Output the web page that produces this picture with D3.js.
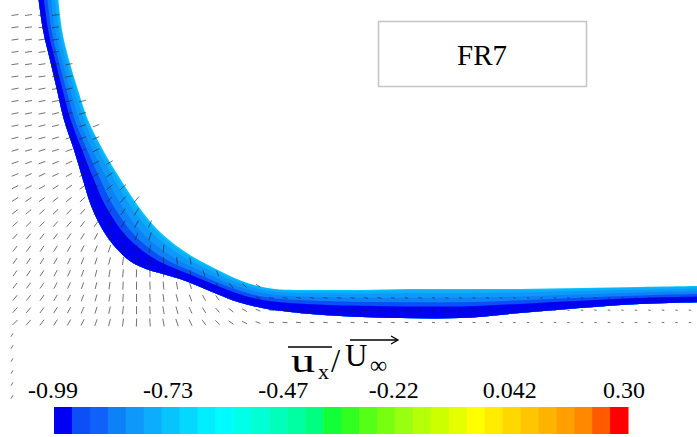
<!DOCTYPE html>
<html>
<head>
<meta charset="utf-8">
<script src="https://cdn.jsdelivr.net/npm/d3@7"></script>
<style>
body { margin: 0; background: #fff; }
</style>
</head>
<body>
<div id="chart"></div>
<script>
// free surface contour band, outer (low side) and inner edge, x/D and z/D
var surfOuterX = [0.38, 0.43, 0.50, 0.57, 0.64, 0.74, 0.83, 0.89, 0.95, 1.04, 1.16, 1.30, 1.46, 1.63, 1.80, 1.98, 2.17, 2.38, 2.62, 2.90, 3.40, 4.00, 4.60, 5.20, 5.80, 6.40, 7.05]
var surfOuterY = [3.45, 3.10, 2.80, 2.50, 2.20, 1.90, 1.60, 1.40, 1.25, 1.08, 0.92, 0.79, 0.71, 0.66, 0.61, 0.54, 0.46, 0.38, 0.32, 0.28, 0.24, 0.22, 0.22, 0.27, 0.32, 0.36, 0.38]
var surfInnerX = [0.58, 0.62, 0.69, 0.78, 0.88, 1.03, 1.21, 1.34, 1.45, 1.56, 1.68, 1.81, 1.95, 2.10, 2.26, 2.42, 2.58, 2.75, 2.95, 3.20, 3.60, 4.10, 4.65, 5.20, 5.80, 6.40, 7.05]
var surfInnerY = [3.45, 3.10, 2.80, 2.50, 2.20, 1.90, 1.60, 1.40, 1.25, 1.12, 1.01, 0.91, 0.82, 0.74, 0.66, 0.59, 0.54, 0.51, 0.50, 0.50, 0.50, 0.51, 0.51, 0.51, 0.52, 0.53, 0.54]
// share of the band taken by the lowest level (-0.99) at each station
var darkFrac = [0.27, 0.27, 0.27, 0.27, 0.28, 0.28, 0.29, 0.30, 0.32, 0.34, 0.37, 0.40, 0.40, 0.38, 0.36, 0.35, 0.35, 0.35, 0.36, 0.38, 0.40, 0.40, 0.40, 0.38, 0.36, 0.35, 0.35]

// upper contour levels, as share of the rest of the band, and their colour index
var bandLevels = [1, 0.93, 0.76, 0.5, 0.24]
var bandColorIdx = [6, 5, 4, 3, 1]

// colour map of the legend, 32 levels
var cmapColors = ["#0000f2", "#0d4ff7", "#1060fa", "#0d82f8", "#0d98fa", "#0caefc", "#08c4fd", "#05d8ff",
  "#00eeff", "#00fcff", "#00ffe8", "#00ffd2", "#00ffbb", "#00ffa0", "#00ff80", "#10ff38",
  "#30ff20", "#55ff18", "#78ff10", "#98ff10", "#b5ff08", "#ccff00", "#e4ff00", "#ffff00",
  "#ffec00", "#ffd800", "#ffc600", "#ffb400", "#ffa000", "#ff8800", "#ff5a00", "#ff0000"]
var cbarTicks = [-0.99, -0.73, -0.47, -0.22, 0.042, 0.30]
var cbarLabels = ["-0.99", "-0.73", "-0.47", "-0.22", "0.042", "0.30"]

// velocity vectors: direction (deg) per grid row, left part of the domain
var vecAngle = [
  [8, 8, 8, 8],
  [8, 8, 8, 8],
  [8, 8, 8, 8],
  [8, 8, 8, 8],
  [8, 8, 8, 8, 10],
  [8, 8, 8, 8, 10],
  [10, 10, 10, 10, 12],
  [10, 10, 12, 12, 12, 14],
  [12, 12, 12, 14, 14, 15],
  [12, 12, 14, 14, 15, 18, 20],
  [14, 15, 15, 16, 18, 20, 22],
  [15, 16, 18, 18, 20, 24, 26],
  [18, 20, 20, 22, 24, 26, 28, 30],
  [22, 24, 25, 26, 28, 30, 32, 35],
  [28, 28, 30, 32, 34, 36, 38, 40, 42],
  [32, 34, 36, 38, 40, 42, 44, 46, 48, 50],
  [38, 40, 42, 44, 46, 48, 50, 52, 55, 58],
  [42, 44, 46, 48, 50, 52, 55, 58, 60, 62, 65],
  [48, 50, 52, 54, 56, 58, 62, 65, 68, 70, 72],
  [52, 54, 56, 58, 60, 64, 68, 72, 76, 80, 82, 85],
  [55, 56, 58, 60, 64, 68, 72, 76, 82, 86, 88, 90, 95, 100],
  [55, 56, 58, 62, 66, 70, 75, 80, 85, 88, 90, 92, 96, 102, 108, 115],
  [52, 54, 56, 62, 66, 70, 76, 82, 87, 90, 92, 95, 100, 106, 112, 120, 128, 138, 148],
  [50, 52, 55, 60, 64, 68, 74, 80, 86, 90, 93, 98, 104, 110, 118, 126, 135, 145, 155],
  [48, 50, 54, 58, 62, 66, 72, 78, 84, 90, 94, 100, 106, 114, 122, 132, 142, 150, 158],
  [45, 48, 52, 56, 60, 64, 70, 76, 82, 88, 94, 100, 108, 116, 125, 135, 145, 152, 160]
]
var vecLen = [7, 7, 7, 7, 7, 7, 7, 7.5, 8, 8, 8, 8, 7.5, 7, 6.5, 6, 6, 5.5, 5]
// under the flat part: last three rows
var rightAngle = [170, 172, 175]
var rightLen = [5, 5, 5, 4.5, 4.5, 4.5, 4, 4, 4, 3.5, 3.5, 3.5, 3, 3, 3, 3, 3, 2.5, 2.5, 2.5,
  2.5, 2.5, 2.5, 2.5, 2.5, 2.5, 2.5, 2.5, 2.5, 2.5, 2.5, 2.5]
var wallMarksY = [0.05, -0.07, -0.20, -0.32, -0.44, -0.57]

var width = 697,
  height = 437
var serif = '"Liberation Serif", "Times New Roman", Times, serif'

var svg = d3.select("#chart")
  .append("svg")
  .attr("width", width)
  .attr("height", height)

var x = d3.scaleLinear().domain([0, 6.97]).range([0, 697])
var y = d3.scaleLinear().domain([0, 3.4]).range([340, 0])

// contour band
var outer = surfOuterX.map(function(v, i) { return [v, surfOuterY[i]] })
var inner = surfInnerX.map(function(v, i) { return [v, surfInnerY[i]] })
var edge = d3.line().x(function(d) { return x(d[0]) }).y(function(d) { return y(d[1]) }).curve(d3.curveCatmullRom)

function layer(fracAt, color) {
  var pts = outer.map(function(o, i) {
    var f = fracAt(i)
    return [o[0] + f * (inner[i][0] - o[0]), o[1] + f * (inner[i][1] - o[1])]
  })
  svg.append("path")
    .attr("d", edge(outer) + "L" + edge(pts.reverse()).slice(1) + "Z")
    .style("fill", color)
}
bandLevels.forEach(function(g, n) {
  layer(function(i) { return darkFrac[i] + g * (1 - darkFrac[i]) }, cmapColors[bandColorIdx[n]])
})
layer(function(i) { return darkFrac[i] }, cmapColors[0])

// vectors
function gx(k) { return x(0.15 + 0.135 * k) }
function gy(j) { return y(3.25 - 0.123 * j) }
function drawVec(cx, cy, a, L) {
  var t = a * Math.PI / 180, dx = Math.cos(t) * L / 2, dy = Math.sin(t) * L / 2
  svg.append("line")
    .attr("x1", cx - dx).attr("y1", cy + dy)
    .attr("x2", cx + dx).attr("y2", cy - dy)
    .style("stroke", "#222").style("stroke-width", 0.9).style("opacity", 0.7)
}
vecAngle.forEach(function(row, j) {
  row.forEach(function(a, k) { drawVec(gx(k), gy(j), a, vecLen[k]) })
})
rightAngle.forEach(function(a, r) {
  rightLen.forEach(function(L, m) { drawVec(gx(19 + m), gy(23 + r), a, L) })
})
wallMarksY.forEach(function(v) { drawVec(x(0.12), y(v), 60, 4) })

// label box
svg.append("rect").attr("x", 378.5).attr("y", 21.5).attr("width", 208).attr("height", 65)
  .style("fill", "#fff").style("stroke", "#c4c4c4").style("stroke-width", 1.5)
svg.append("text").attr("x", 482).attr("y", 65).attr("text-anchor", "middle")
  .style("font-family", serif).style("font-size", "29px").text("FR7")

// colour bar
var cb = d3.scaleBand().domain(d3.range(cmapColors.length)).range([54, 628])
svg.selectAll("rect.cb").data(cmapColors).enter().append("rect")
  .attr("class", "cb")
  .attr("x", function(d, i) { return cb(i) })
  .attr("y", 407)
  .attr("width", cb.bandwidth() + 0.5)
  .attr("height", 27)
  .style("fill", function(d) { return d })

var cv = d3.scaleLinear().domain([-0.99, 0.30]).range([53, 624])
svg.selectAll("text.cbl").data(cbarTicks).enter().append("text")
  .attr("class", "cbl")
  .attr("x", function(d) { return cv(d) })
  .attr("y", 398)
  .attr("text-anchor", "middle")
  .style("font-family", serif)
  .style("font-size", "24px")
  .text(function(d, i) { return cbarLabels[i] })

// title  u_x / U_inf
function tpiece(px, py, size, s) {
  return svg.append("text").attr("x", px).attr("y", py)
    .style("font-family", serif).style("font-size", size + "px").text(s)
}
tpiece(291, 372, 33, "u").attr("textLength", 24).attr("lengthAdjust", "spacingAndGlyphs")
tpiece(318, 379, 22, "x")
tpiece(331, 372, 33, "/")
tpiece(345, 366, 31, "U")
tpiece(370, 373, 24, "∞")
svg.append("line").attr("x1", 288).attr("y1", 347).attr("x2", 332).attr("y2", 347)
  .style("stroke", "#000").style("stroke-width", 1.3)
svg.append("line").attr("x1", 350).attr("y1", 340).attr("x2", 397).attr("y2", 340)
  .style("stroke", "#000").style("stroke-width", 1.3)
svg.append("path").attr("d", "M391,336 L398,340 L391,344")
  .style("fill", "none").style("stroke", "#000").style("stroke-width", 1.3)
</script>
</body>
</html>
